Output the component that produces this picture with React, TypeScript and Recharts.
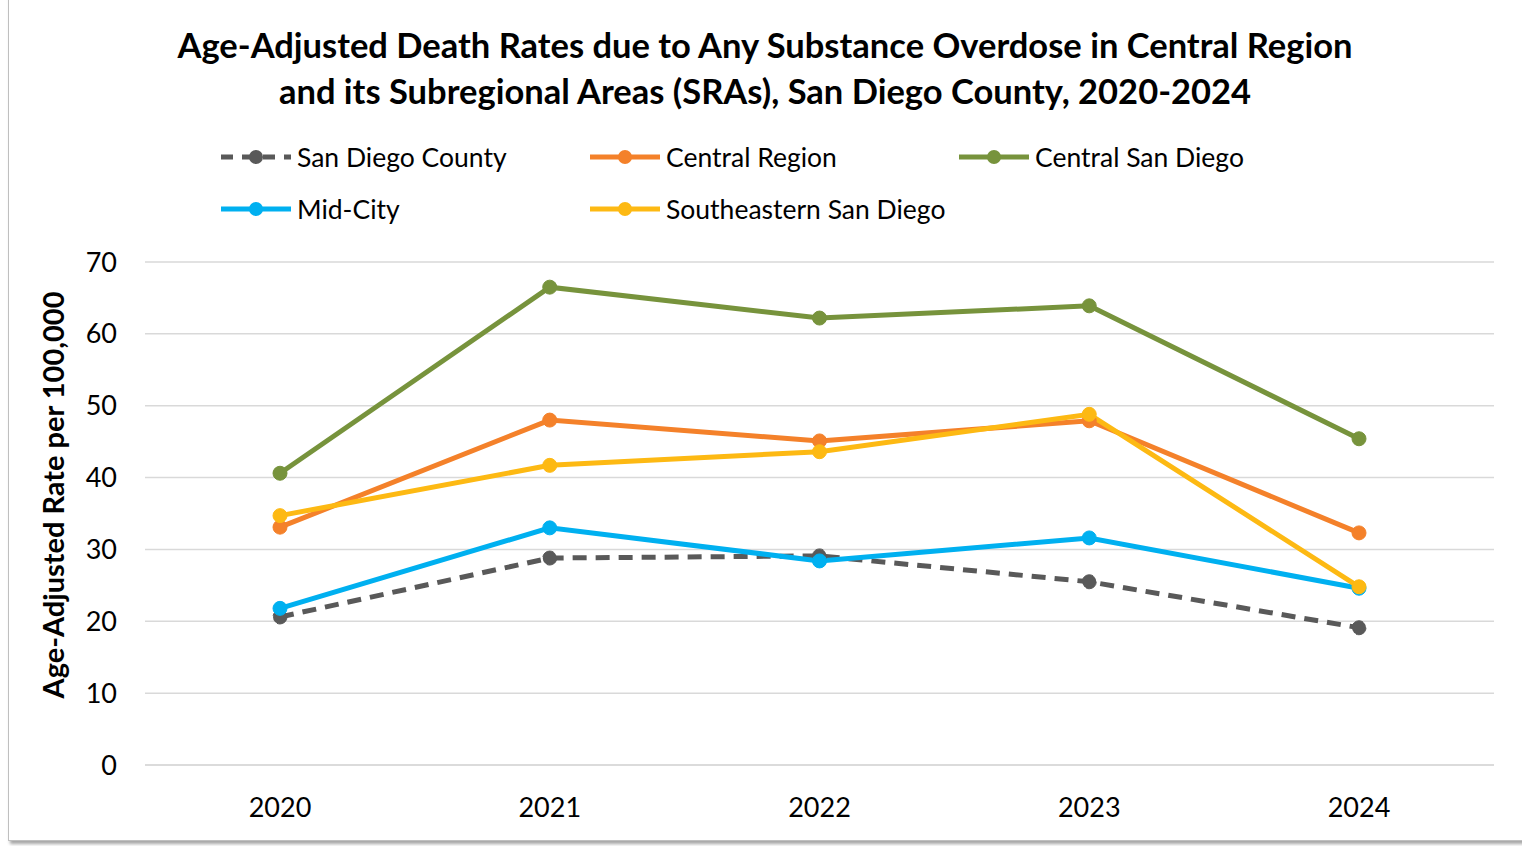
import React from 'react';
import { LineChart, Line, XAxis, YAxis, CartesianGrid } from 'recharts';

const years = ['2020', '2021', '2022', '2023', '2024'];
const sanDiegoCounty = [20.6, 28.8, 29.1, 25.5, 19.1];
const centralRegion = [33.1, 48.0, 45.1, 47.9, 32.3];
const centralSanDiego = [40.6, 66.5, 62.2, 63.9, 45.4];
const midCity = [21.8, 33.0, 28.4, 31.6, 24.6];
const southeastern = [34.7, 41.7, 43.6, 48.8, 24.8];
const yTicks = [0, 10, 20, 30, 40, 50, 60, 70];

const FONT = 'Lato, "Open Sans", sans-serif';

const series = [
  { key: 'sdc', name: 'San Diego County', color: '#595959', dashed: true },
  { key: 'central', name: 'Central Region', color: '#F4812A', dashed: false },
  { key: 'csd', name: 'Central San Diego', color: '#77933C', dashed: false },
  { key: 'mid', name: 'Mid-City', color: '#00B0F0', dashed: false },
  { key: 'se', name: 'Southeastern San Diego', color: '#FDB913', dashed: false },
];

const chartData = years.map((year, i) => ({
  year,
  sdc: sanDiegoCounty[i],
  central: centralRegion[i],
  csd: centralSanDiego[i],
  mid: midCity[i],
  se: southeastern[i],
}));

// legend is laid out in a 3-column grid like the excel original
const legendPos = [
  { left: 219, top: 140 },
  { left: 588, top: 140 },
  { left: 957, top: 140 },
  { left: 219, top: 192 },
  { left: 588, top: 192 },
];

const LegendBlock = () => (
  <>
    {series.map((s, i) => (
      <div
        key={s.key}
        style={{
          position: 'absolute',
          left: legendPos[i].left,
          top: legendPos[i].top,
          display: 'flex',
          alignItems: 'center',
          height: 34,
        }}
      >
        <svg width={74} height={20}>
          <line
            x1={2}
            y1={10}
            x2={72}
            y2={10}
            stroke={s.color}
            strokeWidth={5}
            strokeDasharray={s.dashed ? '12 9' : undefined}
          />
          <circle cx={37} cy={10} r={7} fill={s.color} />
        </svg>
        <span
          style={{
            fontFamily: FONT,
            fontSize: 26.5,
            color: '#000',
            marginLeft: 4,
            whiteSpace: 'nowrap',
          }}
        >
          {s.name}
        </span>
      </div>
    ))}
  </>
);

export default function App() {
  return (
    <div
      style={{
        position: 'absolute',
        left: 0,
        top: 0,
        width: 1522,
        height: 846,
        overflow: 'hidden',
        background: '#fff',
      }}
    >
      <div
        style={{
          position: 'absolute',
          left: 8,
          top: -4,
          width: 1540,
          height: 845,
          border: '1px solid #bfbfbf',
          boxShadow: '2px 3px 3px rgba(0,0,0,0.35)',
          boxSizing: 'border-box',
        }}
      />
      <div
        style={{
          position: 'absolute',
          left: 0,
          top: 22,
          width: 1530,
          textAlign: 'center',
          fontFamily: FONT,
          fontWeight: 700,
          fontSize: 34.5,
          lineHeight: '46px',
          color: '#000',
        }}
      >
        Age-Adjusted Death Rates due to Any Substance Overdose in Central Region
        <br />
        and its Subregional Areas (SRAs), San Diego County, 2020-2024
      </div>
      <div
        style={{
          position: 'absolute',
          left: 52,
          top: 495,
          transform: 'translate(-50%, -50%) rotate(-90deg)',
          fontFamily: FONT,
          fontWeight: 700,
          fontSize: 29,
          whiteSpace: 'nowrap',
          color: '#000',
        }}
      >
        Age-Adjusted Rate per 100,000
      </div>
      <LegendBlock />
      <div style={{ position: 'absolute', left: 0, top: 0 }}>
        <LineChart
          width={1522}
          height={846}
          data={chartData}
          margin={{ top: 262, right: 28, left: 45, bottom: 51 }}
        >
          <CartesianGrid vertical={false} stroke="#d9d9d9" strokeWidth={1.5} />
          <XAxis
            dataKey="year"
            height={30}
            padding={{ left: 135, right: 135 }}
            axisLine={{ stroke: '#d9d9d9', strokeWidth: 1.5 }}
            tickLine={false}
            tickSize={0}
            tickMargin={33}
            tick={{ fontFamily: FONT, fontSize: 27, fill: '#000' }}
          />
          <YAxis
            width={100}
            domain={[0, 70]}
            ticks={yTicks}
            axisLine={false}
            tickLine={false}
            tickSize={0}
            tickMargin={28}
            tick={{ fontFamily: FONT, fontSize: 27, fill: '#000' }}
          />
          {series.map((s) => (
            <Line
              key={s.key}
              type="linear"
              dataKey={s.key}
              name={s.name}
              stroke={s.color}
              strokeWidth={5}
              strokeDasharray={s.dashed ? '14 9' : undefined}
              dot={{ r: 7, fill: s.color, stroke: s.color, strokeWidth: 1 }}
              activeDot={false}
              isAnimationActive={false}
            />
          ))}
        </LineChart>
      </div>
    </div>
  );
}
